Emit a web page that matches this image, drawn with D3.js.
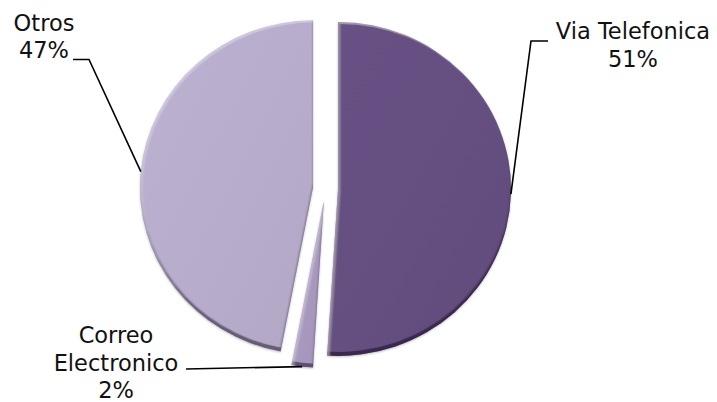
<!DOCTYPE html>
<html>
<head>
<meta charset="utf-8">
<script src="https://cdn.jsdelivr.net/npm/d3@7"></script>
<style>
  html, body { margin: 0; padding: 0; background: #fff; }
  svg { display: block; }
  text { font-family: "DejaVu Sans", "Open Sans", sans-serif; font-size: 22.5px; fill: #111; }
</style>
</head>
<body>
<svg id="chart" width="717" height="402"></svg>
<script>
// Channel shares
const categories = ["Via Telefonica", "Correo Electronico", "Otros"];
const values = [51, 2, 47];
const percentLabels = ["51%", "2%", "47%"];
const colors = ["#654f80", "#a898be", "#b7accb"];
const shadeColors = ["#2f2140", "#4a3a5e", "#4f4560"];

// Label text lines and their layout (elbow of the leader, text centre, first baseline)
const labelLines = [["Via Telefonica", "51%"], ["Correo", "Electronico", "2%"], ["Otros", "47%"]];
const labelLayout = [
  { elbow: [531, 41], end: [548, 41], tx: 633, ty: 39 },
  { elbow: [186, 369], end: null, tx: 116, ty: 343 },
  { elbow: [89, 59.5], end: [73, 59.5], tx: 44, ty: 30.5 }
];
const explode = [12.5, 13, 12.5];

const W = 717, H = 402;
const cx = 325.5, cy = 188.5, R = 173, yScale = 167 / 173;
const lineHeight = 27.5;

const svg = d3.select("#chart");
const defs = svg.append("defs");

// soft bevel: dark rim along the lower edge, faint highlight on the upper-left edge
colors.forEach((c, i) => {
  const f = defs.append("filter").attr("id", "bevel" + i)
    .attr("x", "-10%").attr("y", "-10%").attr("width", "120%").attr("height", "125%");
  f.append("feGaussianBlur").attr("in", "SourceAlpha").attr("stdDeviation", 0.8).attr("result", "blur");
  f.append("feOffset").attr("in", "blur").attr("dx", 0).attr("dy", -4).attr("result", "up");
  f.append("feComposite").attr("in", "SourceAlpha").attr("in2", "up").attr("operator", "out").attr("result", "rim");
  f.append("feFlood").attr("flood-color", shadeColors[i]).attr("flood-opacity", 0.85);
  f.append("feComposite").attr("in2", "rim").attr("operator", "in").attr("result", "rimShade");
  f.append("feOffset").attr("in", "blur").attr("dx", 2).attr("dy", 2).attr("result", "down");
  f.append("feComposite").attr("in", "SourceAlpha").attr("in2", "down").attr("operator", "out").attr("result", "hl");
  f.append("feFlood").attr("flood-color", "#ffffff").attr("flood-opacity", 0.25);
  f.append("feComposite").attr("in2", "hl").attr("operator", "in").attr("result", "hlShade");
  f.append("feGaussianBlur").attr("in", "SourceAlpha").attr("stdDeviation", 1.2).attr("result", "sb");
  f.append("feOffset").attr("in", "sb").attr("dy", 1.5).attr("result", "so");
  f.append("feFlood").attr("flood-color", "#000").attr("flood-opacity", 0.25);
  f.append("feComposite").attr("in2", "so").attr("operator", "in").attr("result", "drop");
  const m = f.append("feMerge");
  m.append("feMergeNode").attr("in", "drop");
  m.append("feMergeNode").attr("in", "SourceGraphic");
  m.append("feMergeNode").attr("in", "rimShade");
  m.append("feMergeNode").attr("in", "hlShade");

  const g = defs.append("linearGradient").attr("id", "grad" + i)
    .attr("x1", "0%").attr("y1", "0%").attr("x2", "100%").attr("y2", "100%");
  g.append("stop").attr("offset", "0%").attr("stop-color", d3.color(c).brighter(0.08));
  g.append("stop").attr("offset", "55%").attr("stop-color", c);
  g.append("stop").attr("offset", "100%").attr("stop-color", d3.color(c).darker(0.08));
});

const pie = d3.pie().sort(null).value(d => d)(values);
const arc = d3.arc().innerRadius(0).outerRadius(R);

// unit direction of a slice's bisector (0 = 12 o'clock, clockwise)
const dirOf = a => [Math.sin(a), -Math.cos(a)];
const toScreen = ([x, y]) => [cx + x, cy + y * yScale];

const pieG = svg.append("g");
pie.forEach((p, i) => {
  const mid = (p.startAngle + p.endAngle) / 2;
  const [dx, dy] = dirOf(mid);
  pieG.append("path")
    .attr("d", arc(p))
    .attr("transform", `translate(${cx + dx * explode[i]},${cy + dy * explode[i] * yScale}) scale(1,${yScale})`)
    .attr("fill", `url(#grad${i})`)
    .attr("filter", `url(#bevel${i})`);
});

// leader lines and labels
const lineG = svg.append("g");
const textG = svg.append("g");
pie.forEach((p, i) => {
  const mid = (p.startAngle + p.endAngle) / 2;
  const [dx, dy] = dirOf(mid);
  const anchor = toScreen([dx * (explode[i] + R), dy * (explode[i] + R)]);
  const L = labelLayout[i];
  const pts = [anchor, L.elbow];
  if (L.end) pts.push(L.end);
  lineG.append("path")
    .attr("d", d3.line()(pts))
    .attr("fill", "none")
    .attr("stroke", "#000")
    .attr("stroke-width", 1.6);
  labelLines[i].forEach((t, k) => {
    textG.append("text")
      .attr("x", L.tx)
      .attr("y", L.ty + k * lineHeight)
      .attr("text-anchor", "middle")
      .text(t);
  });
});
</script>
</body>
</html>
